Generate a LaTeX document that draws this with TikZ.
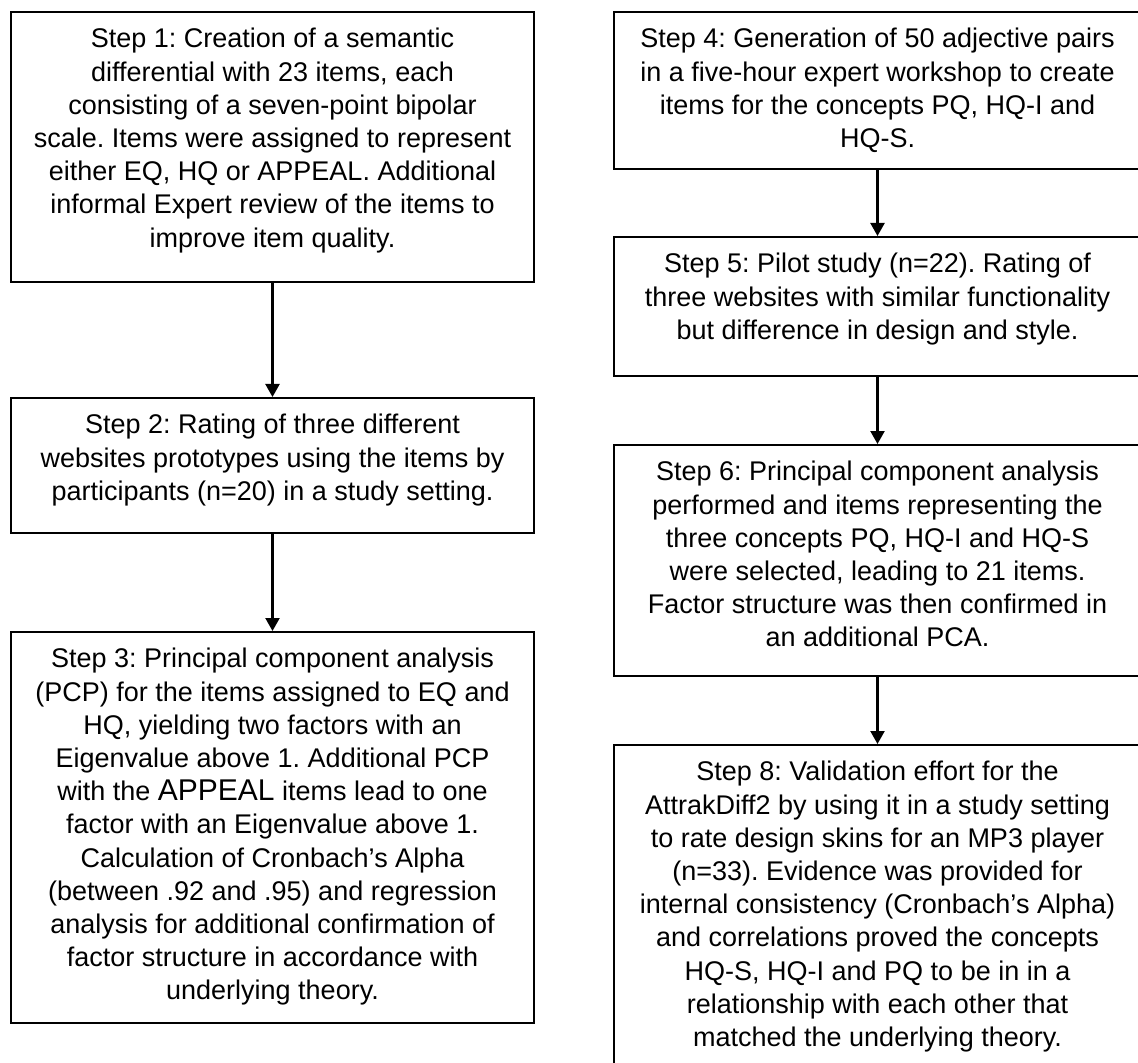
\documentclass[tikz,border=0pt]{standalone}
\usepackage{fontspec}
\setmainfont{Liberation Sans}
\usetikzlibrary{positioning,arrows.meta}
\frenchspacing

\begin{document}
\begin{tikzpicture}[
  x=0.5pt, y=-0.5pt,
  >={Triangle[width=7pt,length=6.5pt]},
  arr/.style={->, line width=1.1pt},
  stepbox/.style={draw, line width=1pt, inner sep=0pt},
  steptext/.style={anchor=north, align=center, inner sep=0pt, font=\fontsize{13.5}{16.6}\selectfont},
]

\def\Lw{261.5pt}
\def\Rw{263.5pt}
\def\off{8.5pt}

\useasboundingbox (0,0) rectangle (1138,1063);

% left column
\node[stepbox, minimum width=\Lw, minimum height=135pt] (S1) at (272.5,147) {};
\node[steptext, below=\off of S1.north] (T1) {Step 1: Creation of a semantic\\
  differential with 23 items, each\\
  consisting of a seven-point bipolar\\
  scale. Items were assigned to represent\\
  either EQ, HQ or APPEAL. Additional\\
  informal Expert review of the items to\\
  improve item quality.};

\node[stepbox, minimum width=\Lw, minimum height=67.5pt] (S2) at (272.5,465.5) {};
\node[steptext, below=\off of S2.north] (T2) {Step 2: Rating of three different\\
  websites prototypes using the items by\\
  participants (n=20) in a study setting.};

\node[stepbox, minimum width=\Lw, minimum height=195.5pt] (S3) at (272.5,827.5) {};
\node[steptext, below=\off of S3.north] (T3) {Step 3: Principal component analysis\\
  (PCP) for the items assigned to EQ and\\
  HQ, yielding two factors with an\\
  Eigenvalue above 1. Additional PCP\\
  with the {\fontsize{15}{16.6}\selectfont APPEAL} items lead to one\\
  factor with an Eigenvalue above 1.\\
  Calculation of Cronbach’s Alpha\\
  (between .92 and .95) and regression\\
  analysis for additional confirmation of\\
  factor structure in accordance with\\
  underlying theory.};

\draw[arr] (S1) -- (S2);
\draw[arr] (S2) -- (S3);

% right column
\node[stepbox, minimum width=\Rw, minimum height=78.5pt] (S4) at (877.5,90.5) {};
\node[steptext, below=\off of S4.north] (T4) {Step 4: Generation of 50 adjective pairs\\
  in a five-hour expert workshop to create\\
  items for the concepts PQ, HQ-I and\\
  HQ-S.};

\node[stepbox, minimum width=\Rw, minimum height=69.5pt] (S5) at (877.5,306.5) {};
\node[steptext, below=\off of S5.north] (T5) {Step 5: Pilot study (n=22). Rating of\\
  three websites with similar functionality\\
  but difference in design and style.};

\node[stepbox, minimum width=\Rw, minimum height=115.5pt] (S6) at (877.5,560.5) {};
\node[steptext, below=\off of S6.north] (T6) {Step 6: Principal component analysis\\
  performed and items representing the\\
  three concepts PQ, HQ-I and HQ-S\\
  were selected, leading to 21 items.\\
  Factor structure was then confirmed in\\
  an additional PCA.};

\node[stepbox, minimum width=\Rw, minimum height=165pt] (S8) at (877.5,910) {};
\node[steptext, below=\off of S8.north] (T8) {Step 8: Validation effort for the\\
  AttrakDiff2 by using it in a study setting\\
  to rate design skins for an MP3 player\\
  (n=33). Evidence was provided for\\
  internal consistency (Cronbach’s Alpha)\\
  and correlations proved the concepts\\
  HQ-S, HQ-I and PQ to be in in a\\
  relationship with each other that\\
  matched the underlying theory.};

\draw[arr] (S4) -- (S5);
\draw[arr] (S5) -- (S6);
\draw[arr] (S6) -- (S8);

\end{tikzpicture}
\end{document}
